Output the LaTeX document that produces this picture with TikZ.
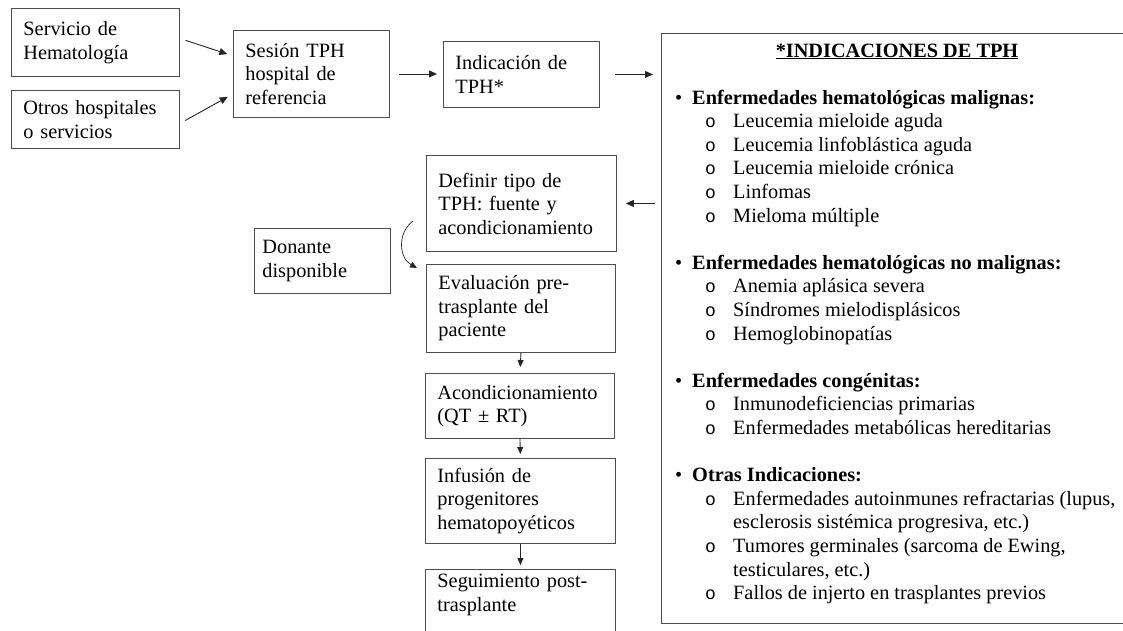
\documentclass[tikz,border=0pt]{standalone}
\usepackage{fontspec}
\setmainfont{Liberation Serif}
\newfontfamily\vinetafont{Liberation Mono}
\usetikzlibrary{arrows.meta,positioning}
\hyphenpenalty=10000
\exhyphenpenalty=10000

\tikzset{
  caja/.style={draw=black!70, line width=0.9pt, rectangle, anchor=north west, align=left,
    inner xsep=12pt, inner ysep=5pt, font=\fontsize{20.3}{23.5}\selectfont},
  flecha/.style={draw=black!85, line width=0.9pt, -{Triangle[length=8pt,width=7pt]}},
  flechita/.style={draw=black!85, line width=0.9pt, -{Triangle[length=7pt,width=6pt]}},
  renglon/.style={anchor=base west, inner sep=0pt, font=\fontsize{20.3}{23.5}\selectfont},
  grupo/.style={renglon, font=\fontsize{20.3}{23.5}\selectfont\bfseries},
}

\begin{document}
\begin{tikzpicture}[x=1pt,y=-1pt]
\useasboundingbox (0,0) rectangle (1123,630);
\clip (0,0) rectangle (1123,630);

% origen de los pacientes
\node[caja, text width=144pt, minimum height=68pt] (serv) at (11,8) {Servicio de\\Hematología};
\node[caja, text width=144pt, minimum height=58pt] (otros) at (11,90) {Otros hospitales\\o servicios};
\node[caja, text width=132pt, minimum height=87pt] (sesion) at (233,30) {Sesión TPH\\hospital de\\referencia};
\node[caja, text width=132pt, minimum height=66pt] (indica) at (443,41) {Indicación de\\TPH*};

% recuadro de indicaciones
\node[caja, minimum width=480pt, minimum height=590pt] (indic) at (661,33) {};
\node[anchor=base, inner sep=0pt, font=\fontsize{20.3}{23.5}\selectfont\bfseries] (titulo) at (897,57) {\underline{*INDICACIONES DE TPH}};
\foreach \k/\t [count=\i] in {0/Enfermedades hematológicas malignas:, 7/Enfermedades hematológicas no malignas:, 12/Enfermedades congénitas:, 16/Otras Indicaciones:}{
  \node[renglon] (punto\i) at (675,{104+23.6*\k}) {\textbullet};
  \node[grupo] (grupo\i) at (692,{104+23.6*\k}) {\t};
}
\foreach \k/\t in {1/Leucemia mieloide aguda, 2/Leucemia linfoblástica aguda, 3/Leucemia mieloide crónica, 4/Linfomas, 5/Mieloma múltiple, 8/Anemia aplásica severa, 9/Síndromes mielodisplásicos, 10/Hemoglobinopatías, 13/Inmunodeficiencias primarias, 14/Enfermedades metabólicas hereditarias, 17/{Enfermedades autoinmunes refractarias (lupus,}, 19/{Tumores germinales (sarcoma de Ewing,}, 21/Fallos de injerto en trasplantes previos}{
  \node[renglon, font=\fontsize{18}{20}\vinetafont] (vin\k) at (705,{104+23.6*\k}) {o};
  \node[renglon] (item\k) at (733,{104+23.6*\k}) {\t};
}
\node[renglon] (item18) at (733,{104+23.6*18}) {esclerosis sistémica progresiva, etc.)};
\node[renglon] (item20) at (733,{104+23.6*20}) {testiculares, etc.)};

% proceso del trasplante
\node[caja, text width=166pt, minimum height=96pt] (definir) at (426,155) {Definir tipo de\\TPH: fuente y\\acondicionamiento};
\node[caja, text width=120pt, inner xsep=8pt, minimum height=65pt] (donante) at (254,228) {Donante\\disponible};
\node[caja, text width=165pt, minimum height=88pt] (evalua) at (426,264) {Evaluación pre-\\trasplante del\\paciente};
\node[caja, text width=165pt, minimum height=65pt] (acond) at (425,373) {Acondicionamiento\\(QT ± RT)};
\node[caja, text width=166pt, minimum height=85pt] (infus) at (425,458) {Infusión de\\progenitores\\hematopoyéticos};
\node[caja, text width=166pt] (segui) at (425,569) {Seguimiento post-\\trasplante\\[40pt]\mbox{}};

% flechas
\draw[flecha, shorten <=6pt, shorten >=6pt] ([yshift=4pt]serv.east) -- ([yshift=18pt]sesion.west);
\draw[flecha, shorten <=6pt, shorten >=6pt] ([yshift=-4pt]otros.east) -- ([yshift=-20pt]sesion.west);
\draw[flecha, shorten <=9pt, shorten >=6pt] (sesion.east) -- (sesion.east -| indica.west);
\draw[flecha, shorten <=15pt, shorten >=8pt] (indica.east) -- (indica.east -| indic.west);
\draw[flecha, shorten <=6pt, shorten >=9pt] (indic.west |- definir.east) -- (definir.east);
\draw[flechita, line width=0.7pt] ([shift={(-13,-31)}]definir.south west) .. controls +(-16,12) and +(-18,-10) .. ([shift={(-9,4)}]evalua.north west);
\draw[flechita, shorten >=6pt] (evalua.south) -- (acond.north);
\draw[flechita, shorten >=4pt] (acond.south) -- (infus.north);
\draw[flechita, shorten >=4pt] (infus.south) -- (segui.north);
\end{tikzpicture}
\end{document}
